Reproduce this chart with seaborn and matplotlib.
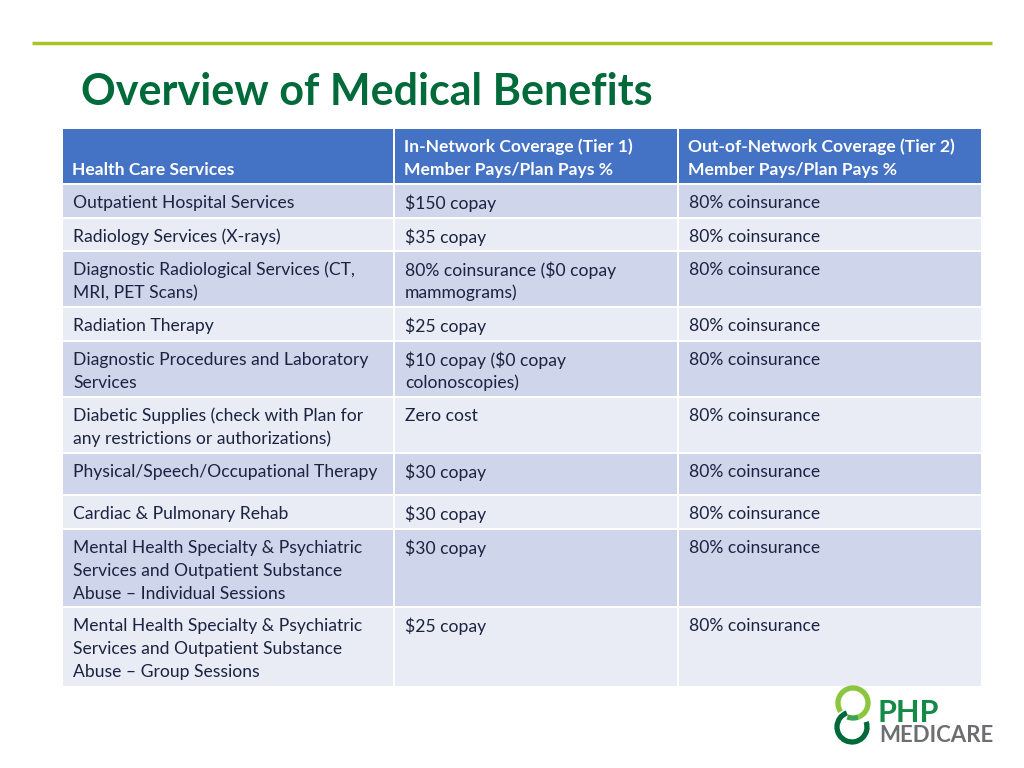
import matplotlib.pyplot as plt
import seaborn as sns
from matplotlib.patches import Rectangle, Arc

sns.set_theme(style="white")
plt.rcParams['font.family'] = ['Lato', 'DejaVu Sans']

title = 'Overview of Medical Benefits'
headers = ['Health Care Services',
           'In-Network Coverage (Tier 1)\nMember Pays/Plan Pays %',
           'Out-of-Network Coverage (Tier 2)\nMember Pays/Plan Pays %']
services = ['Outpatient Hospital Services',
            'Radiology Services (X-rays)',
            'Diagnostic Radiological Services (CT,\nMRI, PET Scans)',
            'Radiation Therapy',
            'Diagnostic Procedures and Laboratory\nServices',
            'Diabetic Supplies (check with Plan for\nany restrictions or authorizations)',
            'Physical/Speech/Occupational Therapy',
            'Cardiac & Pulmonary Rehab',
            'Mental Health Specialty & Psychiatric\nServices and Outpatient Substance\nAbuse \u2013 Individual Sessions',
            'Mental Health Specialty & Psychiatric\nServices and Outpatient Substance\nAbuse \u2013 Group Sessions']
in_network = ['$150 copay', '$35 copay', '80% coinsurance ($0 copay\nmammograms)',
              '$25 copay', '$10 copay ($0 copay\ncolonoscopies)', 'Zero cost',
              '$30 copay', '$30 copay', '$30 copay', '$25 copay']
out_network = ['80% coinsurance'] * 10

# layout (pixels)
col_x = [63, 395, 679]
col_w = [330, 282, 302]
header_top, header_h = 129, 54
row_h = [32, 31, 54, 32, 54, 54, 40, 32, 76, 78]
gap = 2
line_step = 23

header_color = '#4472C4'
row_colors = ['#CFD5EA', '#E9EBF5']
text_color = '#1B2340'

fig = plt.figure(figsize=(10.24, 7.68), dpi=100)
ax = fig.add_axes([0, 0, 1, 1])
ax.set_xlim(0, 1024)
ax.set_ylim(768, 0)
ax.axis('off')

# top rule and title
ax.plot([32, 992], [43, 43], color='#A8C523', lw=2.5, solid_capstyle='butt')
ax.text(81, 92, title, fontsize=31, fontweight='bold', color='#006A3A',
        va='center', ha='left')

# header
for x, w, h in zip(col_x, col_w, headers):
    ax.add_patch(Rectangle((x, header_top), w, header_h, color=header_color, lw=0))
    lines = h.split('\n')
    for k, ln in enumerate(lines):
        y = header_top + header_h - 13 - (len(lines) - 1 - k) * line_step
        ax.text(x + 9, y, ln, fontsize=12.6, fontweight='bold', color='white',
                va='center', ha='left', parse_math=False)

# body rows
y = header_top + header_h + gap
for i, cells in enumerate(zip(services, in_network, out_network)):
    h = row_h[i]
    for x, w, txt in zip(col_x, col_w, cells):
        ax.add_patch(Rectangle((x, y), w, h, color=row_colors[i % 2], lw=0))
        for k, ln in enumerate(txt.split('\n')):
            ax.text(x + 10, y + 18 + k * line_step, ln, fontsize=12.6,
                    color=text_color, va='center', ha='left', parse_math=False)
    y += h + gap

# logo (y axis is inverted, so data angles run clockwise on screen)
ax.add_patch(Arc((853, 703), 30, 30, theta1=-215, theta2=70, color='#8CC63F', lw=3.8))
ax.add_patch(Arc((853, 703), 30, 30, theta1=70, theta2=112, color='#3FA34D', lw=3.8))
ax.add_patch(Arc((852, 727), 30, 30, theta1=-20, theta2=250, color='#00693A', lw=3.8))
ax.text(877, 713, 'PHP', fontsize=22, fontweight='bold', color='#138A45',
        va='center', ha='left')
ax.text(879, 735, 'MEDICARE', fontsize=16, fontweight='bold', color='#6D6E71',
        va='center', ha='left')

fig.savefig('out.png', dpi=100)
